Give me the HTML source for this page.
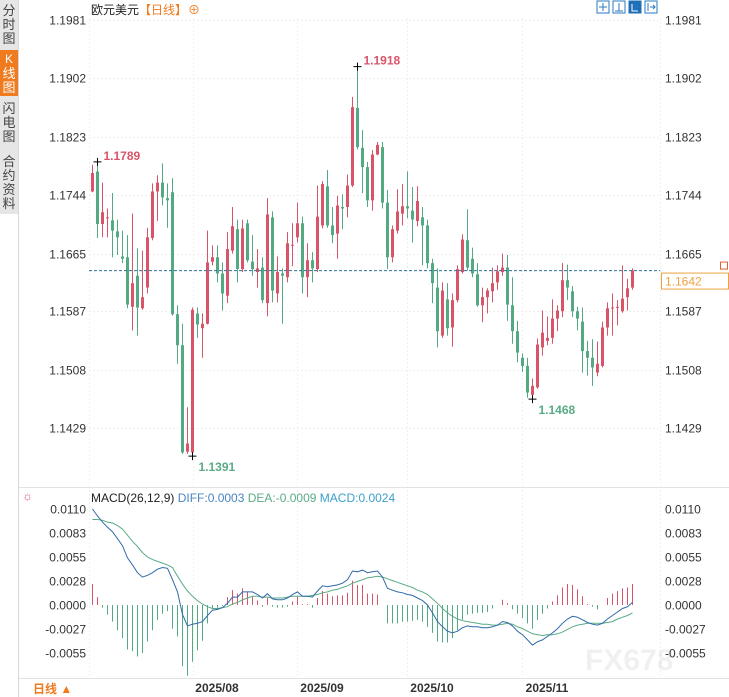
<!DOCTYPE html>
<html><head><meta charset="utf-8">
<style>
html,body{margin:0;padding:0;background:#fff;}
svg{display:block;font-family:"Liberation Sans","Noto Sans CJK SC",sans-serif;}
</style></head>
<body>
<svg id="chart" width="729" height="697" viewBox="0 0 729 697" xmlns="http://www.w3.org/2000/svg">
  <!-- sidebar -->
  <g>
    <rect x="0" y="0" width="18" height="214" fill="#e6e6e6"/>
    <line x1="18.5" y1="0" x2="18.5" y2="697" stroke="#d8d8d8"/>
    <g font-size="13" fill="#444">
      <text x="9" y="15" text-anchor="middle">分</text><text x="9" y="29" text-anchor="middle">时</text><text x="9" y="43" text-anchor="middle">图</text>
    </g>
    <g>
      <rect x="0" y="50" width="18" height="46" fill="#f07b1f"/>
      <text x="9" y="63" text-anchor="middle" font-size="12" fill="#fff">K</text><text x="9" y="78" text-anchor="middle" font-size="13" fill="#fff">线</text><text x="9" y="92" text-anchor="middle" font-size="13" fill="#fff">图</text>
    </g>
    <g font-size="13" fill="#444">
      <text x="9" y="113" text-anchor="middle">闪</text><text x="9" y="127" text-anchor="middle">电</text><text x="9" y="141" text-anchor="middle">图</text>
    </g>
    <g font-size="13" fill="#444">
      <text x="9" y="166" text-anchor="middle">合</text><text x="9" y="180" text-anchor="middle">约</text><text x="9" y="194" text-anchor="middle">资</text><text x="9" y="208" text-anchor="middle">料</text>
    </g>
  </g>
  <!-- title -->
  <g font-size="12">
    <text x="91" y="14" fill="#222">欧元美元</text>
    <text x="139" y="14" fill="#f07b1f">【日线】</text>
    <text x="188" y="14" fill="#f07b1f">⊕</text>
  </g>
  <!-- toolbar icons -->
  <g>
    <rect x="597" y="1" width="12" height="12" fill="#fff" stroke="#2a78c2"/>
    <rect x="613" y="1" width="12" height="12" fill="#fff" stroke="#2a78c2"/>
    <rect x="629" y="1" width="12" height="12" fill="#1f6fb8" stroke="#1f6fb8"/>
    <rect x="645" y="1" width="12" height="12" fill="#fff" stroke="#2a78c2"/>
    <path d="M603 3v8M599 7h8M619 3v8M615 11h8M632 4v7h6M634 5l4 2-4 2M648 3v8M650 7h5M653 5l2 2-2 2" stroke="#2a78c2" stroke-width="1" fill="none"/>
    <path d="M632 4v7h6" stroke="#fff" fill="none"/>
  </g>
  <g id="main"></g>
  <g id="macd"></g>
  <!-- bottom -->
  <line x1="19" y1="678.5" x2="729" y2="678.5" stroke="#e2e2e2"/>
  <text x="33" y="693" font-size="12" font-weight="bold" fill="#f07b1f">日线 ▲</text>
  <text x="585" y="670" font-size="30" fill="#000" fill-opacity="0.06" font-weight="bold">FX678</text>
</svg>
<script>
// ---- price data (in 1e-4 units) ----
const openP=[11749,11776,11705,11713,11710,11695,11661,11660,11593,11635,
11591,11619,11686,11749,11761,11740,11748,11583,11541,11397,
11396,11584,11564,11570,11654,11660,11638,11608,11669,11698,
11644,11706,11654,11640,11646,11598,11714,11611,11638,11633,
11676,11687,11706,11633,11656,11644,11703,11756,11703,11692,
11728,11728,11757,11862,11808,11782,11737,11799,11809,11734,
11660,11696,11719,11729,11723,11709,11714,11703,11652,11619,
11554,11603,11565,11602,11640,11683,11658,11637,11595,11606,
11614,11626,11640,11646,11595,11560,11524,11513,11474,11484,
11538,11547,11551,11577,11587,11629,11614,11587,11573,11533,
11524,11504,11513,11565,11591,11592,11587,11606,11619];
const closeP=[11774,11705,11721,11714,11696,11687,11658,11596,11625,11592,
11606,11687,11749,11761,11741,11737,11583,11541,11396,11408,
11589,11569,11570,11653,11660,11638,11611,11671,11702,11644,
11699,11656,11644,11645,11602,11718,11615,11640,11635,11679,
11677,11706,11633,11656,11645,11715,11759,11703,11690,11730,
11726,11757,11863,11809,11782,11737,11799,11812,11734,11660,
11698,11722,11729,11726,11711,11736,11703,11652,11625,11560,
11615,11564,11602,11644,11684,11646,11638,11595,11606,11615,
11625,11641,11646,11596,11560,11531,11513,11477,11486,11542,
11558,11551,11577,11588,11629,11619,11587,11577,11533,11524,
11511,11516,11565,11591,11592,11593,11604,11618,11642];
const highP=[11785,11789,11761,11726,11747,11711,11696,11690,11719,11672,
11669,11700,11760,11771,11787,11760,11767,11595,11570,11457,
11592,11592,11584,11696,11676,11676,11653,11694,11728,11711,
11711,11711,11690,11671,11660,11740,11722,11661,11645,11694,
11706,11734,11715,11679,11667,11757,11763,11778,11728,11743,
11745,11772,11877,11918,11832,11789,11805,11816,11816,11751,
11703,11752,11759,11776,11755,11756,11728,11711,11658,11645,
11626,11625,11611,11649,11691,11725,11673,11652,11619,11618,
11646,11649,11665,11663,11633,11574,11530,11524,11496,11550,
11588,11580,11603,11595,11652,11650,11621,11593,11592,11547,
11549,11546,11573,11599,11611,11602,11649,11631,11645];
const lowP=[11748,11686,11687,11687,11660,11663,11652,11591,11561,11554,
11589,11611,11683,11709,11730,11700,11581,11516,11394,11394,
11391,11551,11524,11569,11649,11626,11588,11598,11665,11626,
11640,11653,11635,11619,11598,11580,11599,11599,11570,11626,
11648,11680,11611,11606,11626,11640,11699,11700,11679,11658,
11698,11714,11755,11806,11747,11728,11723,11798,11726,11644,
11653,11692,11703,11713,11680,11702,11649,11645,11598,11538,
11551,11554,11539,11599,11638,11642,11633,11593,11572,11584,
11599,11616,11635,11574,11543,11518,11505,11470,11468,11482,
11527,11541,11543,11560,11579,11602,11579,11561,11504,11500,
11486,11499,11511,11554,11554,11568,11585,11588,11616];
// MACD data (1e-4 units)
const histV=[24,9,-3,-11,-19,-29,-38,-51,-53,-59,
-55,-42,-29,-17,-10,-7,-27,-36,-70,-81,
-65,-52,-41,-21,-5,-3,-1,9,17,13,
19,15,10,5,-2,8,-2,-3,-3,-2,
4,10,1,1,-3,8,16,13,10,11,
11,14,28,23,23,13,13,12,0,-21,
-21,-21,-19,-19,-18,-17,-19,-25,-32,-42,
-43,-43,-38,-29,-17,-11,-10,-9,-9,-8,
-4,0,6,2,-5,-10,-15,-21,-27,-17,
-10,-4,4,11,20,24,23,18,10,1,
-2,-5,0,8,13,16,19,20,24];
const deaV=[98,98,97,95,94,91,87,80,73,67,
60,55,52,50,48,46,43,33,24,16,
10,5,1,-2,-4,-4,-3,-2,1,3,
6,8,10,10,9,9,8,8,8,9,
10,10,10,10,11,12,14,15,17,18,
20,22,25,27,29,31,32,33,32,30,
28,26,24,22,20,17,15,12,7,2,
-4,-9,-13,-16,-18,-19,-20,-21,-22,-22,
-23,-23,-22,-21,-22,-25,-27,-30,-33,-34,
-35,-34,-34,-33,-31,-28,-25,-23,-22,-21,
-21,-21,-21,-20,-19,-16,-14,-12,-9];
const diffV=[110,102,95,89,84,76,68,54,46,37,
32,34,37,41,43,42,29,15,-11,-24,
-22,-21,-19,-12,-6,-5,-3,2,9,9,
15,15,15,12,8,13,7,6,6,8,
12,15,10,10,9,16,22,21,22,23,
25,29,39,38,40,37,38,39,32,19,
17,15,14,12,11,8,5,0,-9,-19,
-25,-30,-32,-30,-26,-24,-25,-25,-26,-26,
-25,-23,-19,-20,-24,-30,-34,-40,-46,-42,
-40,-36,-32,-27,-21,-16,-13,-14,-17,-20,
-22,-23,-21,-16,-12,-8,-4,-2,3];
const priceTicks=[1.1981,1.1902,1.1823,1.1744,1.1665,1.1587,1.1508,1.1429];
const macdTicks=[0.0110,0.0083,0.0055,0.0028,0.0000,-0.0027,-0.0055];
const monthLabels=["2025/08","2025/09","2025/10","2025/11"];
const monthIdx=[25,46,68,91];
const annotIdx=[1,53,20,88];
const annotType=["high","high","low","low"];

const NS="http://www.w3.org/2000/svg";
function mk(tag,attrs,parent){const e=document.createElementNS(NS,tag);for(const k in attrs)e.setAttribute(k,attrs[k]);parent.appendChild(e);return e;}
const RED="#d85469",GREEN="#52a982";
const xS=i=>92+5*i;
const yP=v=>20+(1.1981-v)*(408/0.0552);
const yM=v=>605-v*(96/0.0110);
const main=document.getElementById('main');
const macd=document.getElementById('macd');

// grid
[89,193,297,407,522,660].forEach(x=>{const l=mk('line',{x1:x+.5,y1:18,x2:x+.5,y2:678,stroke:'#f0f0f0','stroke-dasharray':'2,2'},main);

});
priceTicks.forEach(t=>{const y=Math.round(yP(t))+.5;
const g=mk('line',{x1:89,y1:y,x2:660,y2:y,stroke:'#efefef','stroke-dasharray':'2,2'},main);


const a=mk('text',{x:86,y:y+4,'text-anchor':'end','font-size':12,fill:'#333'},main);a.textContent=t.toFixed(4);


const b=mk('text',{x:665,y:y+4,'font-size':12,fill:'#333'},main);b.textContent=t.toFixed(4);


});

// candles
for(let i=0;i<openP.length;i++){
 const o=openP[i]/1e4,c=closeP[i]/1e4,h=highP[i]/1e4,l=lowP[i]/1e4;
 const col=c>=o?RED:GREEN,x=xS(i);
 const g=mk('g',{},main);
 
 
 mk('line',{x1:x+.5,y1:yP(h),x2:x+.5,y2:yP(l),stroke:col,'stroke-width':1},g);
 const t=Math.min(yP(o),yP(c)),bh=Math.max(1,Math.abs(yP(o)-yP(c)));
 mk('rect',{x:x-1,y:t,width:3,height:bh,fill:col},g);
}
// annotations
annotIdx.forEach((idx,k)=>{
 const isH=annotType[k]=="high";const v=(isH?highP[idx]:lowP[idx])/1e4;const x=xS(idx)+.5,y=yP(v);
 const cr=mk('path',{d:`M${x-4} ${y}h8M${x} ${y-4}v8`,stroke:'#000','stroke-width':1},main);
 
 
 const t=mk('text',{x:x+6,y:isH?y-2:y+15,'font-size':12,'font-weight':'bold',fill:isH?'#d85469':'#5aab85'},main);
 t.textContent=v.toFixed(4);
 
 
});
// current price line
const last=closeP[closeP.length-1]/1e4,ly=yP(last);
const cl=mk('line',{x1:89,y1:ly,x2:660,y2:ly,stroke:'#2d6e95','stroke-dasharray':'3,2'},main);


const pb=mk('rect',{x:661.5,y:ly+2.5,width:67,height:16,fill:'#fff',stroke:'#f0a040'},main);


const pt=mk('text',{x:665,y:ly+15,'font-size':12,fill:'#f0a040'},main);pt.textContent=last.toFixed(4);


const mkr=mk('rect',{x:720.5,y:ly-8.5,width:7,height:7,fill:'#fff',stroke:'#e06030'},main);



// MACD panel
const sep=mk('line',{x1:19,y1:487.5,x2:729,y2:487.5,stroke:'#e2e2e2'},macd);


const sun=mk('text',{x:22,y:500,'font-size':12,fill:'#d85469'},macd);sun.textContent='☼';


const lg=mk('text',{x:91,y:502,'font-size':12},macd);


const l1=mk('tspan',{fill:'#222'},lg);l1.textContent='MACD(26,12,9) ';
const l2=mk('tspan',{fill:'#4a86c0'},lg);l2.textContent='DIFF:'+(diffV[diffV.length-1]/1e4).toFixed(4)+'  ';
const l3=mk('tspan',{fill:'#5aab85'},lg);l3.textContent='DEA:'+(deaV[deaV.length-1]/1e4).toFixed(4)+'  ';
const l4=mk('tspan',{fill:'#3aa0c8'},lg);l4.textContent='MACD:'+(histV[histV.length-1]/1e4).toFixed(4);
macdTicks.forEach(t=>{const y=Math.round(yM(t))+.5;
const a=mk('text',{x:86,y:y+4,'text-anchor':'end','font-size':12,fill:'#333'},macd);a.textContent=t.toFixed(4);


const b=mk('text',{x:665,y:y+4,'font-size':12,fill:'#333'},macd);b.textContent=t.toFixed(4);


});
for(let i=0;i<histV.length;i++){
 const v=histV[i]/1e4,x=xS(i)+.5;
 const b=mk('line',{x1:x,y1:yM(0),x2:x,y2:yM(v),stroke:v>=0?RED:GREEN,'stroke-width':1},macd);
 
 
}
function path(arr){return arr.map((v,i)=>(i?'L':'M')+(xS(i)+.5)+' '+yM(v/1e4).toFixed(1)).join(' ');}
const dl=mk('path',{d:path(deaV),stroke:'#5aab85',fill:'none','stroke-width':1},macd);


const fl=mk('path',{d:path(diffV),stroke:'#2f6aa8',fill:'none','stroke-width':1},macd);


monthLabels.forEach((m,k)=>{const t=mk('text',{x:xS(monthIdx[k]),y:692,'text-anchor':'middle','font-size':12,'font-weight':'bold',fill:'#333'},macd);t.textContent=m;

});
</script>
</body></html>
